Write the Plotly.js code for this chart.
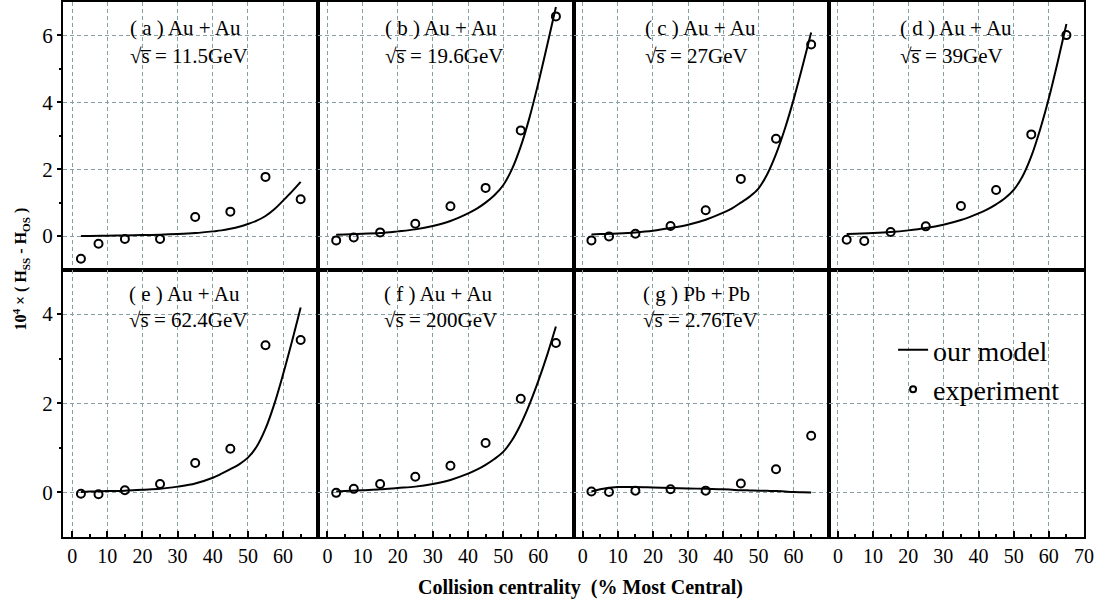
<!DOCTYPE html>
<html>
<head>
<meta charset="utf-8">
<script src="https://cdn.plot.ly/plotly-3.0.1.min.js"></script>
<style>html,body{margin:0;padding:0;background:#fff;}#chart{width:1101px;height:606px;}</style>
</head>
<body>
<div id="chart"></div>
<script>
// ---- data ----
const xExp   = [2.5, 7.5, 15, 25, 35, 45, 55, 65];
const xModel = [2.5, 5, 10, 15, 20, 25, 30, 35, 40, 42.5, 45, 47.5, 50, 52.5, 55, 57.5, 60, 62.5, 65];

const expA = [-0.68, -0.23, -0.09, -0.09, 0.57, 0.73, 1.77, 1.10];
const expB = [-0.13, -0.04, 0.11, 0.37, 0.89, 1.44, 3.16, 6.57];
const expC = [-0.13, -0.01, 0.07, 0.30, 0.77, 1.71, 2.91, 5.73];
const expD = [-0.11, -0.15, 0.12, 0.29, 0.90, 1.38, 3.04, 6.01];
const expE = [-0.03, -0.04, 0.05, 0.19, 0.66, 0.98, 3.30, 3.42];
const expF = [-0.01, 0.08, 0.19, 0.35, 0.60, 1.11, 2.10, 3.35];
const expG = [0.02, 0.01, 0.04, 0.07, 0.04, 0.20, 0.52, 1.27];

const modelA = [0.00, 0.00, 0.01, 0.02, 0.03, 0.04, 0.06, 0.09, 0.14, 0.17, 0.22, 0.28, 0.36, 0.46, 0.60, 0.80, 1.06, 1.33, 1.62];
const modelB = [0.04, 0.05, 0.07, 0.09, 0.14, 0.20, 0.30, 0.45, 0.68, 0.82, 1.00, 1.22, 1.52, 2.00, 2.68, 3.55, 4.58, 5.70, 6.85];
const modelC = [0.05, 0.06, 0.08, 0.11, 0.16, 0.24, 0.34, 0.49, 0.70, 0.83, 1.00, 1.18, 1.42, 1.85, 2.45, 3.20, 4.08, 5.06, 6.09];
const modelD = [0.06, 0.07, 0.09, 0.12, 0.17, 0.24, 0.34, 0.48, 0.68, 0.80, 0.95, 1.13, 1.38, 1.78, 2.38, 3.18, 4.12, 5.20, 6.34];
const modelE = [0.01, 0.02, 0.03, 0.04, 0.06, 0.08, 0.13, 0.20, 0.33, 0.42, 0.52, 0.63, 0.78, 1.03, 1.43, 1.98, 2.65, 3.38, 4.15];
const modelF = [0.02, 0.03, 0.05, 0.07, 0.10, 0.13, 0.19, 0.28, 0.42, 0.51, 0.62, 0.75, 0.91, 1.17, 1.53, 1.98, 2.50, 3.08, 3.72];
const modelG = [0.02, 0.07, 0.12, 0.12, 0.11, 0.10, 0.09, 0.08, 0.07, 0.06, 0.05, 0.045, 0.04, 0.035, 0.03, 0.02, 0.01, 0.005, 0.00];

const panelTitles = ['( a ) Au + Au', '( b ) Au + Au', '( c ) Au + Au', '( d ) Au + Au',
                     '( e ) Au + Au', '( f ) Au + Au', '( g ) Pb + Pb'];
const panelEnergies = ['11.5GeV', '19.6GeV', '27GeV', '39GeV', '62.4GeV', '200GeV', '2.76TeV'];
const labelX = [15.8, 15.7, 17.2, 17.2, 15.5, 15.5, 16.5];

const xTicks = [0, 10, 20, 30, 40, 50, 60];
const xTicksLast = [0, 10, 20, 30, 40, 50, 60, 70];
const yTicksTop = [0, 2, 4, 6];
const yTicksBottom = [0, 2, 4];

const expSeries = [expA, expB, expC, expD, expE, expF, expG];
const modelSeries = [modelA, modelB, modelC, modelD, modelE, modelF, modelG];

// ---- build ----
const FONT = '"Liberation Serif", "Times New Roman", Times, serif';
const traces = [];
for (let i = 0; i < 7; i++) {
  const ax = i === 0 ? '' : String(i + 1);
  traces.push({
    x: xModel, y: modelSeries[i], xaxis: 'x' + ax, yaxis: 'y' + ax,
    mode: 'lines', line: {color: '#000', width: 2, shape: 'spline', smoothing: 1},
    showlegend: false, hoverinfo: 'skip'
  });
  traces.push({
    x: xExp, y: expSeries[i], xaxis: 'x' + ax, yaxis: 'y' + ax,
    mode: 'markers',
    marker: {symbol: 'circle-open', size: 8, color: '#000', line: {width: 2, color: '#000'}},
    showlegend: false, hoverinfo: 'skip'
  });
}
// legend entries (in the empty 8th panel)
traces.push({x: [null], y: [null], xaxis: 'x8', yaxis: 'y8', name: 'our model',
  mode: 'lines', line: {color: '#000', width: 2}, showlegend: true});
traces.push({x: [null], y: [null], xaxis: 'x8', yaxis: 'y8', name: 'experiment',
  mode: 'markers', marker: {symbol: 'circle-open', size: 6, color: '#000', line: {width: 2, color: '#000'}},
  showlegend: true});

const layout = {
  width: 1101, height: 606,
  margin: {l: 63, r: 17, t: 2, b: 69},
  paper_bgcolor: '#fff', plot_bgcolor: '#fff',
  font: {family: FONT, color: '#000', size: 20},
  showlegend: true,
  legend: {x: 0.813, y: 0.396, xanchor: 'left', yanchor: 'top', bgcolor: 'rgba(0,0,0,0)',
           font: {family: FONT, size: 28, color: '#000'}, tracegroupgap: 0},
  annotations: []
};

const gridCommon = {gridcolor: '#86a0a3', griddash: '4px,3px', gridwidth: 1,
  showline: true, mirror: true, linecolor: '#000', linewidth: 2, zeroline: false};

for (let i = 0; i < 8; i++) {
  const row = i < 4 ? 0 : 1;
  const col = i % 4;
  const key = i === 0 ? '' : String(i + 1);
  const xa = Object.assign({}, gridCommon, {
    domain: [col * 0.25, (col + 1) * 0.25],
    range: [-2.6, 70], anchor: 'y' + key,
    tickmode: 'array', tickvals: col === 3 ? xTicksLast : xTicks,
    showticklabels: row === 1,
    ticks: row === 1 ? 'inside' : '', ticklen: 6, tickwidth: 2, tickcolor: '#000',
    tickfont: {family: FONT, size: 20, color: '#000'}
  });
  if (row === 1) {
    xa.minor = {tickvals: [5, 15, 25, 35, 45, 55, 65], ticks: 'inside', ticklen: 3, tickwidth: 2, tickcolor: '#000', showgrid: false};
  }
  const ya = Object.assign({}, gridCommon, {
    domain: row === 0 ? [0.5, 1] : [0, 0.5],
    range: row === 0 ? [-1, 7] : [-1, 5], anchor: 'x' + key,
    tickmode: 'array', tickvals: row === 0 ? yTicksTop : yTicksBottom,
    showticklabels: col === 0,
    ticks: col === 0 ? 'outside' : '', ticklen: 4, tickwidth: 2, tickcolor: '#000',
    tickfont: {family: FONT, size: 21, color: '#000'}
  });
  if (col === 0) {
    ya.minor = {tickvals: row === 0 ? [1, 3, 5] : [1, 3], ticks: 'outside', ticklen: 2, tickwidth: 2, tickcolor: '#000', showgrid: false};
  }
  layout['xaxis' + key] = xa;
  layout['yaxis' + key] = ya;
}

for (let i = 0; i < 7; i++) {
  const key = i === 0 ? '' : String(i + 1);
  const top = i < 4;
  layout.annotations.push({
    xref: 'x' + key, yref: 'y' + key, x: labelX[i], y: top ? 6.22 : 4.46,
    xanchor: 'left', yanchor: 'middle', showarrow: false,
    text: panelTitles[i], font: {family: FONT, size: 21, color: '#000'}
  });
  layout.annotations.push({
    xref: 'x' + key, yref: 'y' + key, x: labelX[i], y: top ? 5.38 : 3.87,
    xanchor: 'left', yanchor: 'middle', showarrow: false,
    text: '√s\u0305 = ' + panelEnergies[i],
    font: {family: FONT, size: 21, color: '#000'}
  });
}

// axis titles
layout.annotations.push({
  xref: 'paper', yref: 'paper', x: 0.507, y: -0.095, xanchor: 'center', yanchor: 'middle',
  showarrow: false, text: '<b>Collision centrality\u00A0\u00A0(% Most Central)</b>',
  font: {family: FONT, size: 20, color: '#000'}
});
layout.annotations.push({
  xref: 'paper', yref: 'paper', x: -0.042, y: 0.5, xanchor: 'center', yanchor: 'middle',
  showarrow: false, textangle: -90,
  text: '<b>10<sup>4</sup> × ( H<sub>SS</sub> - H<sub>OS</sub> )</b>',
  font: {family: FONT, size: 16, color: '#000'}
});

Plotly.newPlot('chart', traces, layout, {displayModeBar: false, staticPlot: true});
</script>
</body>
</html>
